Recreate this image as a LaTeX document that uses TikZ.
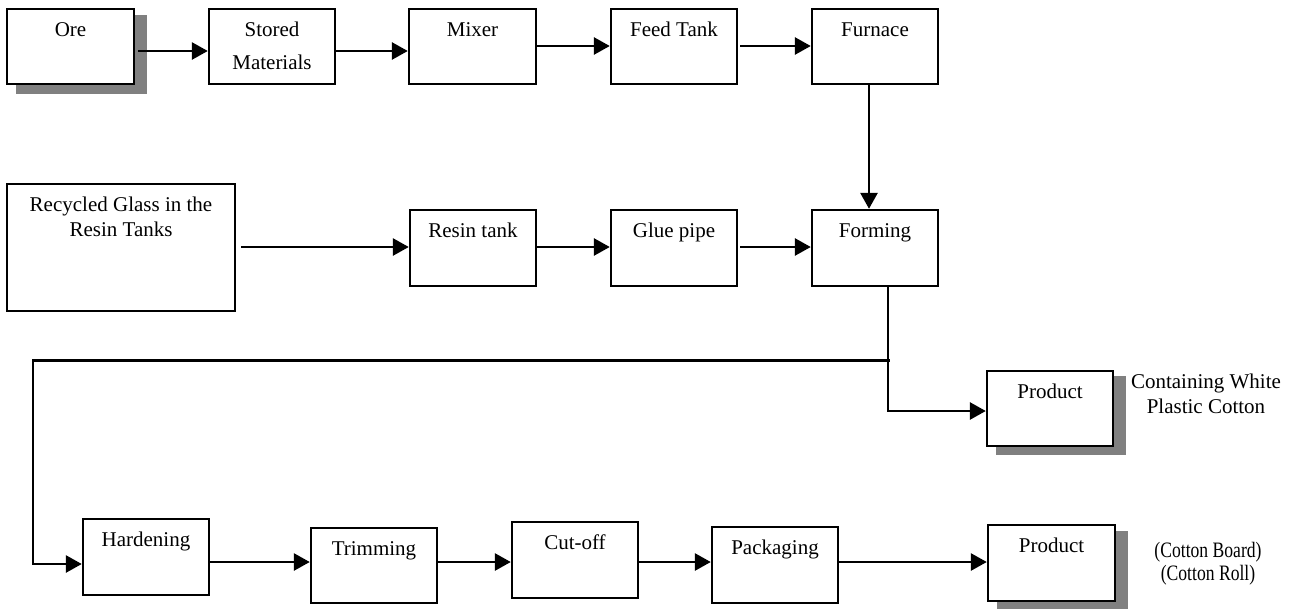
\documentclass[tikz,border=0pt]{standalone}
\usepackage{fontspec}
\setmainfont{Liberation Serif}
\usetikzlibrary{arrows.meta,fit,backgrounds}

% centred text block whose baseline is that of its first line
\newcommand\stackedtext[1]{\begin{tabular}[t]{@{}c@{}}#1\end{tabular}}

\begin{document}
\begin{tikzpicture}[x=1pt,y=-1pt,
  box/.style={draw=black,line width=2.4pt,fill=white,inner sep=0pt},
  lbl/.style={anchor=base,inner sep=0pt,font=\fontsize{21}{25}\selectfont},
  flow/.style={line width=2.8pt,-{Triangle[length=16pt,width=17pt]}},
  plain/.style={line width=3pt},
  shade/.style={fill=black!50}]

\path[use as bounding box] (0,0) rectangle (1299,608);

% ---- process boxes ----
\node[box,fit={(7,9) (134,84)}]      (ore)     {};
\node[box,fit={(209,9) (335,84)}]    (stored)  {};
\node[box,fit={(409,9) (536,84)}]    (mixer)   {};
\node[box,fit={(611,9) (737,84)}]    (feed)    {};
\node[box,fit={(812,9) (938,84)}]    (furnace) {};

\node[box,fit={(7,184) (235,311)}]   (recyc)   {};
\node[box,fit={(410,210) (536,286)}] (resin)   {};
\node[box,fit={(611,210) (737,286)}] (glue)    {};
\node[box,fit={(812,210) (938,286)}] (forming) {};

\node[box,fit={(987,371) (1113,446)}] (prodA)  {};

\node[box,fit={(83,519) (209,595)}]   (harden) {};
\node[box,fit={(311,528) (437,603)}]  (trim)   {};
\node[box,fit={(512,522) (638,598)}]  (cutoff) {};
\node[box,fit={(712,527) (838,603)}]  (pack)   {};
\node[box,fit={(988,525) (1115,601)}] (prodB)  {};

% ---- drop shadows ----
\begin{scope}[on background layer]
  \fill[shade] ([shift={(10,7)}]ore.north west) rectangle ([shift={(12,9)}]ore.south east);
  \fill[shade] ([shift={(10,6)}]prodA.north west) rectangle ([shift={(12,8)}]prodA.south east);
  \fill[shade] ([shift={(10,7)}]prodB.north west) rectangle ([shift={(12,7)}]prodB.south east);
\end{scope}

% ---- box texts ----
\node[lbl] (tOre)     at ([yshift=-29pt]ore.north)     {Ore};
\node[lbl,font=\fontsize{21}{33}\selectfont] (tStored) at ([yshift=-29pt]stored.north) {\stackedtext{Stored\\Materials}};
\node[lbl] (tMixer)   at ([yshift=-29pt]mixer.north)   {Mixer};
\node[lbl] (tFeed)    at ([yshift=-29pt]feed.north)    {Feed Tank};
\node[lbl] (tFurnace) at ([yshift=-29pt]furnace.north) {Furnace};
\node[lbl] (tRecyc)   at ([yshift=-29pt]recyc.north)   {\stackedtext{Recycled Glass in the\\Resin Tanks}};
\node[lbl] (tResin)   at ([yshift=-29pt]resin.north)   {Resin tank};
\node[lbl] (tGlue)    at ([yshift=-29pt]glue.north)    {Glue pipe};
\node[lbl] (tForming) at ([yshift=-29pt]forming.north) {Forming};
\node[lbl] (tProdA)   at ([yshift=-29pt]prodA.north)   {Product};
\node[lbl] (tHarden)  at ([yshift=-29pt]harden.north)  {Hardening};
\node[lbl] (tTrim)    at ([yshift=-29pt]trim.north)    {Trimming};
\node[lbl] (tCut)     at ([yshift=-29pt]cutoff.north)  {Cut-off};
\node[lbl] (tPack)    at ([yshift=-29pt]pack.north)    {Packaging};
\node[lbl] (tProdB)   at ([yshift=-29pt]prodB.north)   {Product};

% ---- side notes ----
\node[lbl] (noteA) at (1206,388) {\stackedtext{Containing White\\Plastic Cotton}};
\node[lbl,font=\fontsize{22}{23}\selectfont] (noteB) at (1208,557)
  {\scalebox{0.8}[1]{\stackedtext{(Cotton Board)\\(Cotton Roll)}}};

% ---- connectors ----
\coordinate (top1) at (0,51);
\coordinate (top2) at (0,46);
\coordinate (mid)  at (0,247);
\coordinate (low)  at (0,562);
\coordinate (split) at (888,360);
\coordinate (bend)  at (33,360);

\draw[flow] ([xshift=3pt]ore.east |- top1) -- (stored.west |- top1);
\draw[flow] (stored.east |- top1) -- (mixer.west |- top1);
\draw[flow] (mixer.east |- top2) -- (feed.west |- top2);
\draw[flow] ([xshift=2pt]feed.east |- top2) -- (furnace.west |- top2);
\draw[flow] ([xshift=-6pt]furnace.south) -- ([xshift=-6pt]forming.north);

\draw[flow] ([xshift=5pt]recyc.east |- mid) -- (resin.west |- mid);
\draw[flow] (resin.east |- mid) -- (glue.west |- mid);
\draw[flow] ([xshift=2pt]glue.east |- mid) -- (forming.west |- mid);

\draw[flow] ([xshift=13pt]forming.south) |- ([yshift=-2.5pt]prodA.west);
\draw[plain,line cap=rect] (split) -- (bend);
\draw[flow] (bend) |- ([yshift=-7pt]harden.west);

\draw[flow] (harden.east |- low) -- (trim.west |- low);
\draw[flow] (trim.east |- low) -- (cutoff.west |- low);
\draw[flow] (cutoff.east |- low) -- (pack.west |- low);
\draw[flow] (pack.east |- low) -- (prodB.west |- low);

\end{tikzpicture}
\end{document}
